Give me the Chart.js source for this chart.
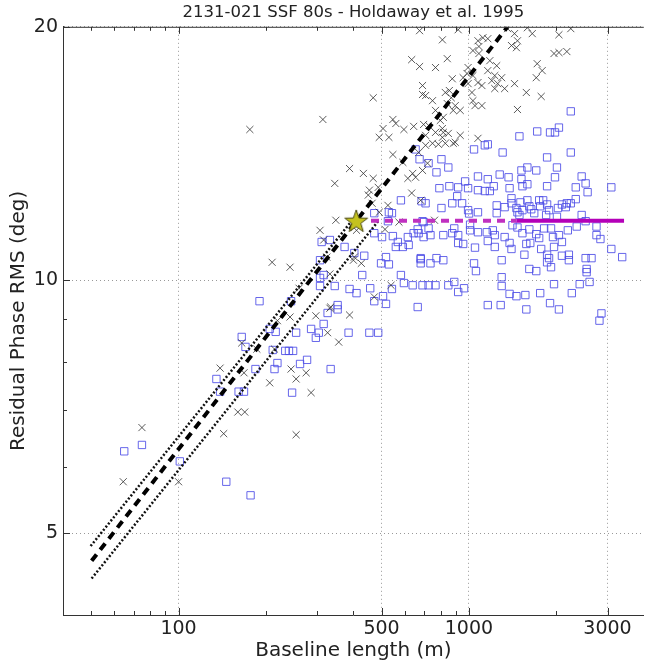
<!DOCTYPE html>
<html>
<head>
<meta charset="utf-8">
<script src="https://cdn.jsdelivr.net/npm/chart.js@4.4.1/dist/chart.umd.min.js"></script>
<style>
  body { margin: 0; background: #fff; }
</style>
</head>
<body>
<canvas id="rmsChart" width="650" height="665"></canvas>
<script>
// [baseline length (m), residual phase rms (deg)]
var crossPts = [
  [176,15.1],[210,10.5],[242,10.36],[219,8.95],[242,9.04],[334,9.29],[388,9.09],[297,9.07],[326,8.66],[356,8.44],
  [165,8.42],[186,8.28],[214,8.28],[139,7.86],[168,7.76],[206,7.55],[244,7.84],[254,7.63],[275,7.76],[286,7.35],
  [160,6.97],[169,6.97],[143,6.57],[254,6.55],[74.8,6.68],[64.5,5.76],[100,5.76],[388,13.57],[433,13.39],[468,13.21],
  [345,13.03],[487,12.89],[454,12.79],[450,12.62],[464,12.34],[547,14.1],[592,13.8],[640,13.39],[655,13.25],[616,13.21],
  [635,12.69],[526,12.27],[491,12.04],[348,11.78],[307,11.46],[574,11.72],[514,11.49],[316,11.16],[410,11.46],[324,10.65],
  [403,10.65],[400,10.56],[426,10.47],[332,10.17],[260,9.78],[539,9.86],[472,9.55],[676,19.79],[918,19.84],[810,19.3],
  [1074,19.25],[1117,19.41],[1161,19.36],[1082,18.95],[1032,18.74],[1082,18.59],[635,18.28],[676,17.94],[767,17.89],[842,18.33],
  [993,17.89],[985,17.6],[955,17.4],[1032,17.5],[1074,17.17],[1108,17.03],[876,17.35],[993,17.12],[468,16.47],[692,17.03],
  [692,16.62],[709,16.57],[749,16.34],[829,16.71],[856,16.8],[869,16.47],[842,16.21],[897,16.12],[883,15.91],[933,15.91],
  [1024,16.71],[1032,16.34],[1049,16.12],[1108,16.12],[767,15.91],[816,15.61],[797,15.48],[547,15.52],[560,15.35],[506,15.14],
  [597,15.1],[645,15.23],[698,15.31],[491,14.78],[530,14.78],[709,14.86],[810,15.14],[816,14.98],[749,14.54],[785,14.5],
  [829,14.54],[883,14.54],[933,14.86],[1074,14.74],[1358,19.9],[1435,19.63],[1469,19.25],[1401,19.0],[1457,18.89],[1589,19.95],
  [1652,19.63],[2041,19.57],[2242,19.9],[1963,18.59],[2041,18.64],[2173,18.69],[1718,18.08],[1787,17.74],[1705,17.4],[1435,17.12],
  [1576,16.71],[1773,16.53],[1469,15.95],[1161,17.74],[1227,17.5],[1296,17.4],[1198,17.26],[1256,17.12],[1327,16.89],[1227,16.89],
  [1246,17.98],[1180,18.23],[726,15.27],[767,14.98],[810,14.78],[849,14.94],[897,14.58],[709,14.46],[671,14.18],[720,13.77],
  [692,13.5],[682,12.44],[761,11.78],[332,9.26],[314,15.52]
];
var squarePts = [
  [190,9.44],[244,9.44],[206,8.75],[216,8.68],[254,8.66],[286,8.75],[304,8.66],[316,8.87],[326,9.14],[353,9.34],
  [353,9.23],[385,8.66],[165,8.56],[170,8.33],[211,8.26],[233,8.24],[240,8.24],[248,8.24],[219,7.97],[214,7.84],
  [262,7.95],[277,8.04],[334,7.84],[184,7.84],[135,7.63],[139,7.37],[161,7.37],[168,7.37],[246,7.35],[74.8,6.37],
  [65,6.26],[101,6.09],[146,5.76],[177,5.55],
  [676,13.92],[583,12.44],[687,12.41],[472,12.01],[530,12.04],[543,12.01],[526,11.75],[692,11.75],[472,11.37],[502,11.25],
  [547,11.28],[569,11.1],[560,10.95],[616,11.25],[645,11.37],[671,11.37],[592,10.95],[620,11.01],[682,10.62],[682,10.47],
  [332,11.16],[311,11.1],[373,10.95],[403,10.77],[436,10.69],[307,10.56],[518,10.65],[498,10.47],[530,10.44],[429,10.14],
  [316,10.14],[307,10.06],[307,9.84],[345,9.84],[388,9.76],[410,9.65],[457,9.78],[506,9.57],[583,10.14],[597,9.92],
  [640,9.86],[692,9.86],
  [655,14.3],[726,13.77],[804,13.92],[849,13.61],[1041,14.3],[1134,14.46],[2242,15.87],[2041,15.18],[1718,15.02],[1902,14.98],
  [1978,14.98],[1492,14.82],[1161,14.5],[1306,14.18],[2242,14.18],[1858,13.99],[1589,13.61],[1705,13.5],[2009,13.61],[1516,13.5],
  [773,13.43],[1276,13.35],[1516,13.18],[1074,13.28],[1161,13.18],[1369,13.25],[1978,13.25],[2444,13.28],[2522,13.03],[2562,12.72],
  [3092,12.89],[970,13.1],[1074,12.79],[1134,12.76],[1180,12.76],[1217,12.93],[1380,12.86],[1589,13.0],[1528,12.93],[1858,12.93],
  [2332,12.89],[791,12.86],[856,12.93],[918,12.89],[993,12.86],[911,12.58],[709,12.34],[804,12.18],[876,12.34],[947,12.34],
  [993,12.11],[1001,12.0],[1074,12.04],[1246,12.27],[1327,12.21],[1401,12.51],[1401,12.34],[1457,12.18],[1504,12.37],[1589,12.44],
  [1614,12.24],[1745,12.44],[1801,12.44],[1759,12.24],[1858,12.3],[1887,12.11],[2025,12.18],[2090,12.3],[2173,12.34],[2242,12.34],
  [2332,12.48],[2156,12.21],[1528,12.11],[1639,12.14],[1678,12.01],[1246,12.01],[1469,12.04],[1492,11.95],[1844,11.95],[2009,11.89],
  [2444,11.95],[2522,11.75],
  [698,11.72],[666,11.49],[726,11.52],[698,11.25],[737,11.31],[816,11.31],[876,11.37],[918,11.31],[890,11.52],[1009,11.64],
  [1009,11.46],[1074,11.4],[1152,11.4],[1208,11.46],[1227,11.31],[1161,11.13],[1327,11.25],[1412,11.62],[1469,11.55],[1528,11.37],
  [1614,11.49],[1705,11.34],[1745,11.22],[1815,11.52],[1917,11.52],[1947,11.25],[2041,11.31],[2090,11.1],[2190,11.46],[2350,11.58],
  [2749,11.58],[2749,11.31],[2836,11.19],
  [918,11.07],[955,11.04],[1049,10.93],[1227,10.95],[1380,11.07],[1401,10.89],[1576,11.04],[1626,11.07],[1773,10.89],[1858,10.72],
  [1887,10.62],[1963,10.95],[2090,10.69],[2208,10.72],[2522,10.62],[2643,10.62],[3092,10.89],[3370,10.65],[1041,10.47],[1296,10.56],
  [1552,10.72],[682,10.59],[737,10.47],[773,10.62],[816,10.56],[1614,10.31],[1917,10.36],[2542,10.31],[1057,10.25],[1705,10.25],
  [1858,10.5],[2208,10.56],[2542,10.22],
  [726,9.86],[767,9.86],[849,9.86],[890,9.95],[962,9.78],[918,9.68],[1296,10.08],[1296,9.84],[1380,9.63],[1457,9.57],
  [1564,9.6],[1759,9.65],[1963,9.89],[2406,9.89],[2602,9.95],[2260,9.65],
  [518,9.37],[543,9.76],[472,9.44],[666,9.29],[1161,9.34],[1286,9.34],[1576,9.23],[1902,9.39],[2041,9.23],[2859,9.13],
  [2814,8.95],[297,8.54],[454,8.66],[487,8.66]
];

// model lines: end points
var fitX = [50.2, 1358], fitY = [4.64, 20.0];
var upperX = [49.8, 394], upperY = [4.83, 11.75];
var lowerX = [50.2, 487], lowerY = [4.42, 11.75];
var flatDashX = [460, 1460], flatSolidX = [1460, 3420], flatY = [11.76, 11.76];
var starPt = [409, 11.76];

var xTicks = [100, 500, 1000, 3000];
var yTicks = [5, 10, 20];
var xMinor = [40, 50, 60, 70, 80, 90, 200, 300, 400, 600, 700, 800, 900, 2000];
var yMinor = [4, 6, 7, 8, 9];

function pts(list) {
    return list.map(function (p) { return {x: p[0], y: p[1]}; });
}
function seg(xs, ys) {
    return [{x: xs[0], y: ys[0]}, {x: xs[1], y: ys[1]}];
}

// filled star marker
var starImg = document.createElement('canvas');
starImg.width = 26;
starImg.height = 26;
var sc = starImg.getContext('2d');
sc.beginPath();
for (var i = 0; i < 10; i++) {
    var r = i % 2 === 0 ? 12 : 4.8;
    var a = -Math.PI / 2 + i * Math.PI / 5;
    var px = 13 + r * Math.cos(a), py = 14 + r * Math.sin(a);
    if (i === 0) sc.moveTo(px, py); else sc.lineTo(px, py);
}
sc.closePath();
sc.fillStyle = '#c4c21e';
sc.fill();
sc.strokeStyle = '#4b4a12';
sc.lineWidth = 1;
sc.stroke();

// frame top line + inward tick marks (matplotlib style)
var frameTicks = {
    id: 'frameTicks',
    afterDraw: function (chart) {
        var c = chart.ctx, area = chart.chartArea;
        var xs = chart.scales.x, ys = chart.scales.y;
        c.save();
        c.strokeStyle = '#333';
        c.lineWidth = 1;
        c.beginPath();
        c.moveTo(area.left, area.top + 0.5);
        c.lineTo(area.right, area.top + 0.5);
        function xMark(v, len) {
            var p = Math.round(xs.getPixelForValue(v)) + 0.5;
            c.moveTo(p, area.top); c.lineTo(p, area.top + len);
            c.moveTo(p, area.bottom); c.lineTo(p, area.bottom - len);
        }
        function yMark(v, len) {
            var p = Math.round(ys.getPixelForValue(v)) + 0.5;
            c.moveTo(area.left, p); c.lineTo(area.left + len, p);
        }
        xTicks.forEach(function (v) { xMark(v, 7); });
        xMinor.forEach(function (v) { xMark(v, 4); });
        yTicks.forEach(function (v) { yMark(v, 7); });
        yMinor.forEach(function (v) { yMark(v, 4); });
        c.stroke();
        c.restore();
    }
};

Chart.defaults.font.family = '"DejaVu Sans", sans-serif';
Chart.defaults.color = '#222';

document.addEventListener('DOMContentLoaded', function () {
    var ctx = document.getElementById('rmsChart').getContext('2d');
    new Chart(ctx, {
        type: 'scatter',
        data: {
            datasets: [{
                label: 'star',
                data: [{x: starPt[0], y: starPt[1]}],
                pointStyle: starImg,
                order: 1
            }, {
                label: 'flat solid',
                data: seg(flatSolidX, flatY),
                showLine: true,
                borderColor: '#b400b8',
                borderWidth: 4,
                pointRadius: 0,
                order: 2
            }, {
                label: 'flat dashed',
                data: seg(flatDashX, flatY),
                showLine: true,
                borderColor: '#c030c0',
                borderWidth: 4,
                borderDash: [8, 6],
                pointRadius: 0,
                order: 2
            }, {
                label: 'fit',
                data: seg(fitX, fitY),
                showLine: true,
                borderColor: '#000',
                borderWidth: 4,
                borderDash: [8, 6],
                pointRadius: 0,
                order: 3
            }, {
                label: 'upper',
                data: seg(upperX, upperY),
                showLine: true,
                borderColor: '#111',
                borderWidth: 2.5,
                borderDash: [2, 2],
                pointRadius: 0,
                order: 4
            }, {
                label: 'lower',
                data: seg(lowerX, lowerY),
                showLine: true,
                borderColor: '#111',
                borderWidth: 2.5,
                borderDash: [2, 2],
                pointRadius: 0,
                order: 4
            }, {
                label: 'crosses',
                data: pts(crossPts),
                pointStyle: 'crossRot',
                pointRadius: 5,
                borderColor: 'rgba(50,50,50,0.8)',
                borderWidth: 1,
                order: 5
            }, {
                label: 'squares',
                data: pts(squarePts),
                pointStyle: 'rect',
                pointRadius: 5.2,
                borderColor: 'rgba(75,75,230,0.85)',
                backgroundColor: 'rgba(0,0,0,0)',
                borderWidth: 1,
                order: 6
            }]
        },
        options: {
            responsive: false,
            animation: false,
            events: [],
            layout: { padding: 0 },
            plugins: {
                legend: { display: false },
                tooltip: { enabled: false },
                title: {
                    display: true,
                    text: '2131-021 SSF 80s - Holdaway et al. 1995',
                    fullSize: false,
                    font: { size: 16.5, weight: 'normal' },
                    color: '#222',
                    padding: { top: 3, bottom: 4 }
                }
            },
            scales: {
                x: {
                    type: 'logarithmic',
                    min: 40,
                    max: 4000,
                    bounds: 'data',
                    afterBuildTicks: function (s) { s.ticks = xTicks.map(function (v) { return {value: v}; }); },
                    afterFit: function (s) { s.height = 50; },
                    ticks: {
                        callback: function (v) { return String(v); },
                        font: { size: 19 },
                        color: '#222',
                        padding: 3,
                        autoSkip: false,
                        maxRotation: 0
                    },
                    grid: { color: '#999', drawTicks: false },
                    border: { color: '#333', dash: [1, 3] },
                    title: {
                        display: true,
                        text: 'Baseline length (m)',
                        font: { size: 20 },
                        color: '#222',
                        padding: { top: 0, bottom: 2 }
                    }
                },
                y: {
                    type: 'logarithmic',
                    min: 4,
                    max: 20,
                    bounds: 'data',
                    afterBuildTicks: function (s) { s.ticks = yTicks.map(function (v) { return {value: v}; }); },
                    afterFit: function (s) { s.width = 63; },
                    ticks: {
                        callback: function (v) { return String(v); },
                        font: { size: 19 },
                        color: '#222',
                        padding: 5
                    },
                    grid: { color: '#999', drawTicks: false },
                    border: { color: '#333', dash: [1, 3] },
                    title: {
                        display: true,
                        text: 'Residual Phase RMS (deg)',
                        font: { size: 20 },
                        color: '#222',
                        padding: { top: 7, bottom: 0 }
                    }
                }
            }
        },
        plugins: [frameTicks]
    });
});
</script>
</body>
</html>
